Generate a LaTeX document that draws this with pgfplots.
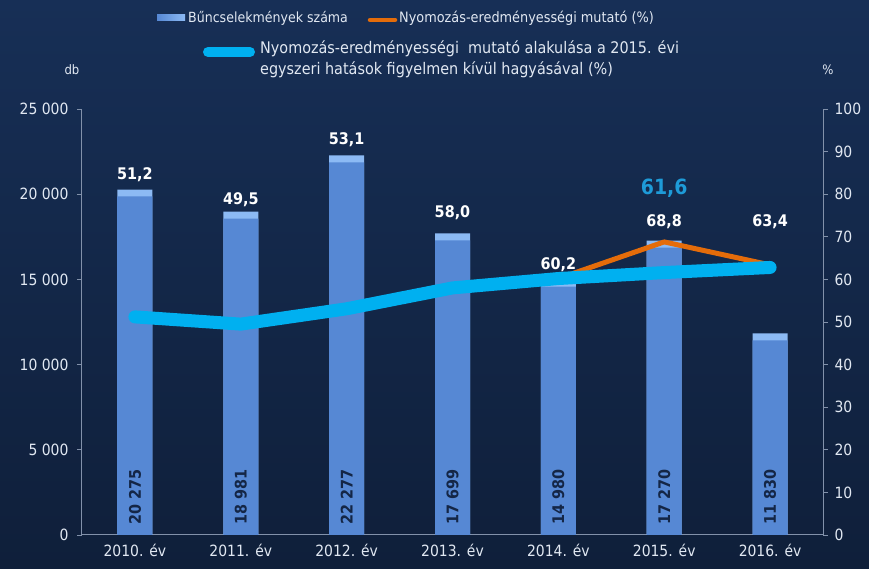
\documentclass[border=0pt]{standalone}
\usepackage{fontspec}
\setmainfont{DejaVu Sans Condensed}
\usepackage{pgfplots}
\pgfplotsset{compat=1.18}
\definecolor{bgtop}{RGB}{23,47,86}
\definecolor{bgbot}{RGB}{15,31,58}
\definecolor{barc}{RGB}{106,158,234}
\definecolor{bardark}{RGB}{86,136,212}
\definecolor{barlight}{RGB}{140,186,244}
\definecolor{axc}{RGB}{130,145,170}
\definecolor{orangec}{RGB}{228,108,10}
\definecolor{cyanc}{RGB}{0,176,240}
\definecolor{bigc}{RGB}{30,155,216}
\definecolor{valc}{RGB}{20,38,70}
\definecolor{legc}{RGB}{225,232,242}
\begin{document}
\begin{tikzpicture}
\fill[top color=bgtop,bottom color=bgbot] (-82pt,-34pt) rectangle (787pt,535pt);
\begin{axis}[at={(0,0)}, anchor=south west, scale only axis, width=741pt, height=426pt,
  xmin=-0.5, xmax=6.5, ymin=0, ymax=25000,
  axis y line*=left, axis x line*=bottom,
  axis line style={axc, line width=1pt, -},
  xtick={0,...,6},
  xticklabels={2010. év,2011. év,2012. év,2013. év,2014. év,2015. év,2016. év},
  major x tick style={draw=none},
  ytick={0,5000,10000,15000,20000,25000},
  scaled y ticks=false,
  tick style={axc, line width=0.8pt}, tick align=outside, major tick length=5pt,
  ticklabel style={legc, font=\fontsize{15.5}{15.5}\selectfont},
  yticklabel style={xshift=-5pt},
  xticklabel style={yshift=-1pt},
  /pgf/number format/.cd, 1000 sep={\ }, assume math mode=true,
]
\addplot[ybar, bar width=35pt, bar shift=0pt, draw=none, fill=barlight]
  coordinates {(0,20275) (1,18981) (2,22277) (3,17699) (4,14980) (5,17270) (6,11830)};
\addplot[ybar, bar width=35pt, bar shift=0pt, draw=none, left color=bardark, middle color=barc, right color=bardark]
  coordinates {(0,19865) (1,18571) (2,21867) (3,17289) (4,14570) (5,16860) (6,11420)};
\foreach \i/\v in {0/20 275,1/18 981,2/22 277,3/17 699,4/14 980,5/17 270,6/11 830}{
  \edef\temp{\noexpand\node[rotate=90, anchor=west, inner sep=0pt, text=valc, font=\noexpand\bfseries\noexpand\fontsize{16}{16}\noexpand\selectfont] at (axis cs:\i,590) {\v};}
  \temp
}
\node[white, font=\bfseries\fontsize{16}{16}\selectfont] at (axis cs:0,21127) {51,2};
\node[white, font=\bfseries\fontsize{16}{16}\selectfont] at (axis cs:1,19660) {49,5};
\node[white, font=\bfseries\fontsize{16}{16}\selectfont] at (axis cs:2,23180) {53,1};
\node[white, font=\bfseries\fontsize{16}{16}\selectfont] at (axis cs:3,18897) {58,0};
\node[white, font=\bfseries\fontsize{16}{16}\selectfont] at (axis cs:4,15845) {60,2};
\node[white, font=\bfseries\fontsize{16}{16}\selectfont] at (axis cs:5,18368) {68,8};
\node[white, font=\bfseries\fontsize{16}{16}\selectfont] at (axis cs:6,18368) {63,4};
\node[text=bigc, font=\bfseries\fontsize{21}{21}\selectfont] at (axis cs:5,20364) {61,6};
\end{axis}
\begin{axis}[at={(0,0)}, anchor=south west, scale only axis, width=741pt, height=426pt,
  xmin=-0.5, xmax=6.5, ymin=0, ymax=100,
  axis y line*=right, axis x line=none,
  axis line style={axc, line width=1pt, -},
  ytick={0,10,...,100},
  tick style={axc, line width=0.8pt}, tick align=outside, major tick length=5pt,
  ticklabel style={legc, font=\fontsize{15.5}{15.5}\selectfont},
  yticklabel style={xshift=3pt},
  /pgf/number format/.cd, assume math mode=true,
]
\addplot[orangec, line width=5pt, line join=round]
  coordinates {(0,51.2) (1,49.5) (2,53.1) (3,58.0) (4,60.2) (5,68.8) (6,63.4)};
\addplot[cyanc, line width=13pt, line join=round, line cap=round]
  coordinates {(0,51.2) (1,49.5) (2,53.1) (3,58.0) (4,60.2) (5,61.6) (6,62.8)};
\end{axis}
% axis unit labels
\node[legc, font=\fontsize{13}{13}\selectfont] at (-10pt,465pt) {db};
\node[legc, font=\fontsize{13}{13}\selectfont] at (746pt,465pt) {\%};
% legend
\fill[left color=bardark, right color=barlight] (75pt,514pt) rectangle (103pt,520pt);
\node[legc, anchor=west, inner sep=0pt, font=\fontsize{14}{14}\selectfont] at (106pt,517pt) {Bűncselekmények száma};
\draw[orangec, line width=4.5pt, line cap=round] (288pt,515pt) -- (313pt,515pt);
\node[legc, anchor=west, inner sep=0pt, font=\fontsize{14.3}{14.3}\selectfont] at (317pt,517pt) {Nyomozás-eredményességi mutató (\%)};
\draw[cyanc, line width=10pt, line cap=round] (126pt,483pt) -- (168pt,483pt);
\node[legc, anchor=west, align=left, inner sep=0pt, font=\fontsize{16}{21}\selectfont] at (178pt,476pt) {Nyomozás-eredményességi \ mutató alakulása a 2015. évi\\egyszeri hatások figyelmen kívül hagyásával (\%)};
\end{tikzpicture}
\end{document}
